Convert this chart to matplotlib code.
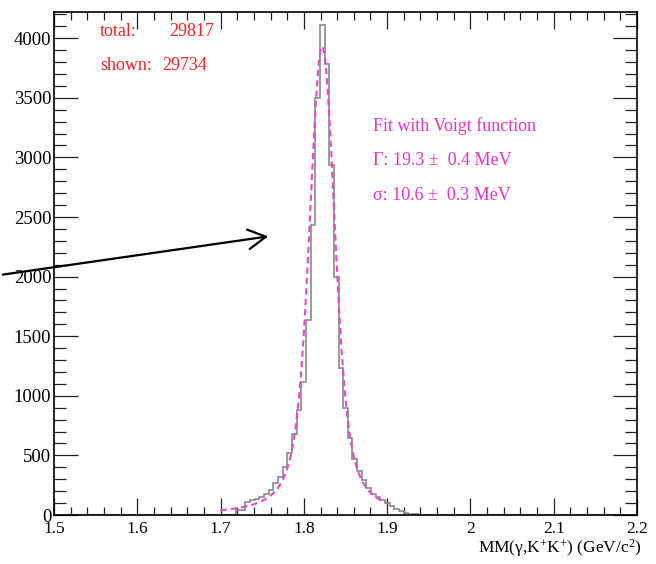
import numpy as np
import matplotlib
matplotlib.use("Agg")
import matplotlib.pyplot as plt
from matplotlib.ticker import MultipleLocator, FuncFormatter
from matplotlib.patches import FancyArrowPatch

# ---- histogram: missing mass MM(gamma, K+K+), 125 bins over 1.5-2.2 GeV/c^2 ----
hist_lo, hist_hi, n_bins = 1.5, 2.2, 125
first_filled_bin = 39
counts = [
    40, 45, 110, 125, 135, 150, 180, 210, 265, 320, 400, 520, 680, 880,  # left tail
    1118, 1636, 2433, 3500, 4110, 3784, 2937, 2000, 1231, 895,           # peak
    650, 470, 370, 290, 225, 180, 150, 125, 100, 75, 52, 34, 20, 10, 5,  # right tail
]

# ---- Voigt fit result ----
fit_mean = 1.822        # GeV/c^2
fit_peak = 3930         # counts per bin at the maximum
fit_gamma = 0.0193      # Lorentzian FWHM, GeV
fit_sigma = 0.0106      # Gaussian sigma, GeV
fit_lo, fit_hi = 1.70, 1.90

stat_lines = [("total:", "29817"), ("shown:", "29734")]
fit_lines = ["Fit with Voigt function",
             "\u0393: 19.3 \u00b1  0.4 MeV",
             "\u03c3: 10.6 \u00b1  0.3 MeV"]
x_title = "MM(\u03b3,K$^{+}$K$^{+}$) (GeV/c$^{2}$)"

plt.rcParams["font.family"] = ["Liberation Serif", "DejaVu Serif"]
plt.rcParams["mathtext.fontset"] = "custom"
plt.rcParams["mathtext.rm"] = "Liberation Serif"
plt.rcParams["mathtext.default"] = "rm"

W, H = 656, 564
fig = plt.figure(figsize=(W / 100, H / 100), dpi=100)
ax = fig.add_axes([54 / W, (H - 515) / H, 583 / W, 503 / H])

edges = np.linspace(hist_lo, hist_hi, n_bins + 1)
full = np.zeros(n_bins)
full[first_filled_bin:first_filled_bin + len(counts)] = counts
ax.stairs(full, edges, color="#8a8a8a", lw=1.2, zorder=2)


def voigt(x):
    t = np.linspace(-0.12, 0.12, 4001)
    hw = fit_gamma / 2
    g = np.exp(-0.5 * (t / fit_sigma) ** 2)
    lor = hw / ((x[:, None] - fit_mean - t[None, :]) ** 2 + hw ** 2)
    return (lor * g).sum(axis=1)


xf = np.linspace(fit_lo, fit_hi, 800)
yf = voigt(xf)
yf *= fit_peak / voigt(np.array([fit_mean]))[0]
ax.plot(xf, yf, color="#ea45d4", lw=1.5, dashes=(3, 2), zorder=3)

ax.set_xlim(hist_lo, hist_hi)
ax.set_ylim(0, 4220)
ax.xaxis.set_major_locator(MultipleLocator(0.1))
ax.xaxis.set_minor_locator(MultipleLocator(0.02))
ax.yaxis.set_major_locator(MultipleLocator(500))
ax.yaxis.set_minor_locator(MultipleLocator(100))
ax.xaxis.set_major_formatter(FuncFormatter(lambda v, p: f"{v:g}"))

ax.tick_params(axis="both", which="both", direction="in", top=True, right=True,
               width=0.9, color="#222222")
ax.tick_params(axis="x", which="major", length=12, labelsize=12.5, pad=4)
ax.tick_params(axis="x", which="minor", length=6)
ax.tick_params(axis="y", which="major", length=17, labelsize=13.5, pad=2)
ax.tick_params(axis="y", which="minor", length=8.5)
for s in ax.spines.values():
    s.set_linewidth(1.2)

# statistics text
for (lab, val), yp, xr in zip(stat_lines, (32, 66), (214, 207)):
    fig.text(100 / W, 1 - yp / H, lab, color="#f52222", fontsize=13, va="center")
    fig.text(xr / W, 1 - yp / H, val, color="#f52222", fontsize=13,
             va="center", ha="right")

# fit parameters
for s, yp in zip(fit_lines, (126, 161, 195)):
    fig.text(373 / W, 1 - yp / H, s, color="#e833cc", fontsize=13, va="center")

fig.text(641 / W, 1 - 548 / H, x_title, fontsize=12.5, ha="right", va="center")

# pointer arrow
fig.patches.append(FancyArrowPatch(
    (0 / W, 1 - 275 / H), (271 / W, 1 - 236 / H), transform=fig.transFigure,
    arrowstyle="->,head_length=0.4,head_width=0.22", mutation_scale=32,
    lw=1.6, color="black"))

fig.savefig("out.png", dpi=100)
